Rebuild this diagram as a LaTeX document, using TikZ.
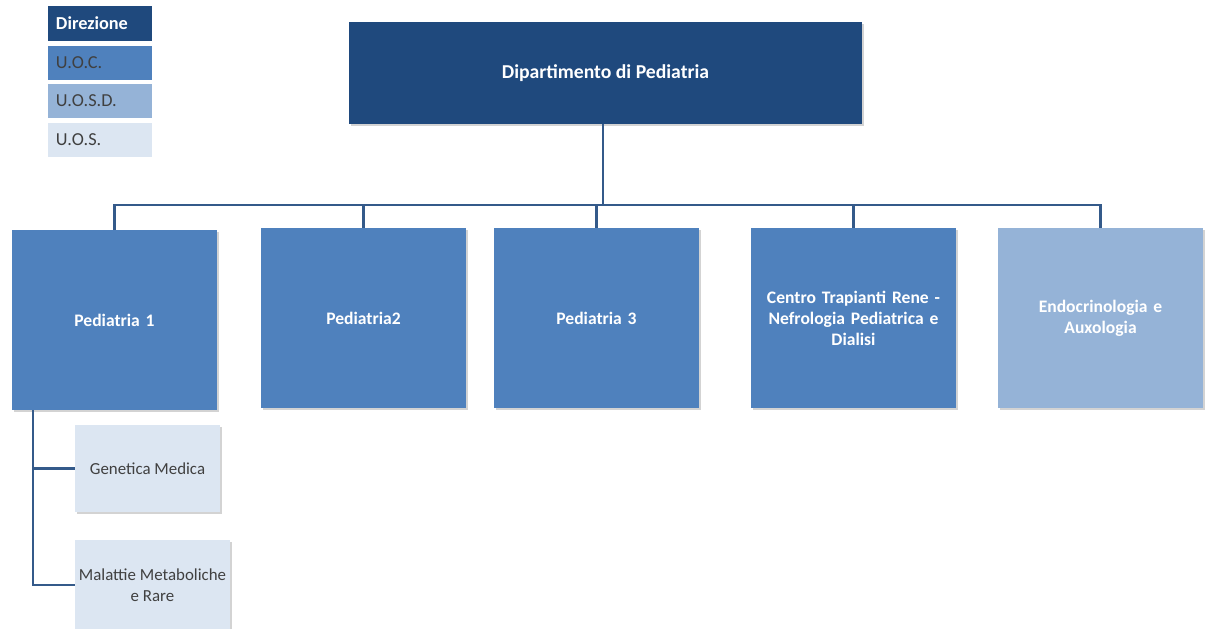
\documentclass[tikz,border=0pt]{standalone}
\usepackage{fontspec}
\setmainfont{Carlito}
\usepackage{tikz}
\usetikzlibrary{positioning, shadows}
\definecolor{direz}{HTML}{1F497D}
\definecolor{uoc}{HTML}{4F81BD}
\definecolor{uosd}{HTML}{95B3D7}
\definecolor{uos}{HTML}{DCE6F2}
\definecolor{linkcol}{HTML}{345A8A}
\definecolor{darktext}{HTML}{404040}

\begin{document}
\begin{tikzpicture}[x=0.025cm, y=-0.025cm,
  box/.style={rectangle, align=center, inner sep=3pt,
    drop shadow={shadow xshift=1.5pt, shadow yshift=-1.5pt, opacity=0.35}},
  dir node/.style={box, fill=direz, text=white, font=\bfseries\fontsize{14}{17}\selectfont},
  uoc node/.style={box, fill=uoc, text=white, font=\bfseries\fontsize{12.5}{15}\selectfont,
    minimum width=5.125cm, minimum height=4.5cm, text width=4.8cm},
  uosd node/.style={uoc node, fill=uosd},
  uos node/.style={box, fill=uos, text=darktext, inner xsep=1pt, font=\fontsize{12}{15}\selectfont},
  key node/.style={rectangle, minimum width=2.6cm, minimum height=0.85cm,
    text width=2.2cm, align=left, font=\fontsize{13}{15}\selectfont},
  link/.style={draw=linkcol, line width=1.6pt}]

\useasboundingbox (0,0) rectangle (1207,629);

\node[key node, fill=direz, text=white, font=\bfseries\fontsize{13}{15}\selectfont] (kdir) at (100,23.5) {Direzione};
\node[key node, fill=uoc, text=darktext] (kuoc) at (100,63) {U.O.C.};
\node[key node, fill=uosd, text=darktext] (kuosd) at (100,101) {U.O.S.D.};
\node[key node, fill=uos, text=darktext] (kuos) at (100,140) {U.O.S.};

\node[dir node, minimum width=12.825cm, minimum height=2.55cm] (dip) at (605.5,73) {Dipartimento di Pediatria};

\node[uoc node] (ped1) at (114.5,320) {Pediatria 1};
\node[uoc node] (ped2) at (363.5,318) {Pediatria2};
\node[uoc node] (ped3) at (596.5,318) {Pediatria 3};
\node[uoc node] (ctr) at (853.5,318) {Centro Trapianti Rene -\\Nefrologia Pediatrica e\\Dialisi};
\node[uosd node] (endo) at (1100.5,318) {Endocrinologia e\\Auxologia};

\node[uos node, minimum width=3.625cm, minimum height=2.175cm] (gen) at (147.5,468.5) {Genetica Medica};
\node[uos node, minimum width=3.875cm, minimum height=2.25cm] (mal) at (152.5,585) {Malattie Metaboliche\\e Rare};

\coordinate (bus) at (603,205);
\coordinate (stem) at (33,410);

\draw[link] (dip.south -| bus) -- (bus);
\foreach \n in {ped1,ped2,ped3,ctr,endo}
  \draw[link] (bus) -| (\n.north);

\draw[link] (stem) |- (gen.west);
\draw[link] (stem) |- (mal.west);
\end{tikzpicture}
\end{document}
